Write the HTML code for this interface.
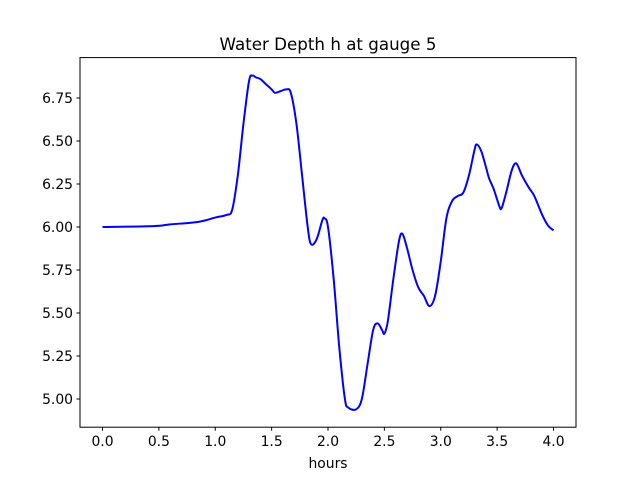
<!DOCTYPE html>
<html><head><meta charset="utf-8"><style>
html,body{margin:0;padding:0;background:#fff;}
svg text{font-family:"DejaVu Sans","Liberation Sans",sans-serif;fill:#000;}
</style></head><body>
<svg id="chart" width="640" height="480" xmlns="http://www.w3.org/2000/svg">
<rect x="0" y="0" width="640" height="480" fill="#fff"/>
<text x="328" y="50" font-size="16.7" text-anchor="middle">Water Depth h at gauge 5</text>
<g id="xticks"></g>
<g id="yticks"></g>
<path id="line" fill="none" stroke="#0000ff" stroke-width="2" stroke-linejoin="round"/>
<rect x="80" y="57.6" width="496" height="369.6" fill="none" stroke="#000" stroke-width="1"/>
<text x="328" y="468" font-size="13.9" text-anchor="middle">hours</text>
</svg>
<script>
const hours=[0,0.45,0.6,0.85,1.0,1.1,1.15,1.2,1.25,1.3,1.33,1.36,1.4,1.45,1.5,1.53,1.58,1.63,1.67,1.72,1.77,1.82,1.85,1.9,1.95,1.97,2.0,2.05,2.1,2.15,2.18,2.25,2.3,2.35,2.4,2.44,2.48,2.5,2.53,2.58,2.63,2.66,2.7,2.75,2.8,2.85,2.9,2.95,3.0,3.05,3.1,3.15,3.2,3.25,3.3,3.32,3.36,3.4,3.43,3.47,3.52,3.54,3.58,3.63,3.67,3.72,3.78,3.83,3.9,3.95,4.0];
const depth=[6.0,6.005,6.015,6.03,6.055,6.07,6.1,6.3,6.6,6.85,6.88,6.87,6.86,6.83,6.8,6.78,6.79,6.8,6.78,6.6,6.3,6.0,5.9,5.93,6.04,6.05,6.0,5.7,5.3,5.0,4.95,4.94,5.0,5.2,5.4,5.44,5.4,5.38,5.45,5.7,5.92,5.96,5.88,5.75,5.65,5.6,5.54,5.6,5.8,6.05,6.15,6.18,6.2,6.3,6.45,6.48,6.44,6.35,6.28,6.22,6.12,6.11,6.2,6.33,6.37,6.3,6.23,6.18,6.07,6.01,5.98];
const xTickLabels=["0.0","0.5","1.0","1.5","2.0","2.5","3.0","3.5","4.0"];
const yTickLabels=["5.00","5.25","5.50","5.75","6.00","6.25","6.50","6.75"];
const NS="http://www.w3.org/2000/svg";
function xs(v){return 102.5+v*112.75;}
function ys(v){return 399-(v-5)*172;}
const xg=document.getElementById('xticks'),yg=document.getElementById('yticks');
xTickLabels.forEach(l=>{const v=parseFloat(l),x=xs(v);
 const t=document.createElementNS(NS,'line');t.setAttribute('x1',x);t.setAttribute('x2',x);t.setAttribute('y1',427.2);t.setAttribute('y2',430.7);t.setAttribute('stroke','#000');
 
 xg.appendChild(t);
 const s=document.createElementNS(NS,'text');s.setAttribute('x',x);s.setAttribute('y',446);s.setAttribute('font-size','13.9');s.setAttribute('text-anchor','middle');s.textContent=l;
 
 xg.appendChild(s);});
yTickLabels.forEach(l=>{const v=parseFloat(l),y=ys(v);
 const t=document.createElementNS(NS,'line');t.setAttribute('x1',76.5);t.setAttribute('x2',80);t.setAttribute('y1',y);t.setAttribute('y2',y);t.setAttribute('stroke','#000');
 
 yg.appendChild(t);
 const s=document.createElementNS(NS,'text');s.setAttribute('x',73);s.setAttribute('y',y+5);s.setAttribute('font-size','13.9');s.setAttribute('text-anchor','end');s.textContent=l;
 
 yg.appendChild(s);});
const pts=hours.map((h,i)=>[xs(h),ys(depth[i])]);
let d='M'+pts[0][0]+','+pts[0][1];
for(let i=0;i<pts.length-1;i++){const p0=pts[Math.max(i-1,0)],p1=pts[i],p2=pts[i+1],p3=pts[Math.min(i+2,pts.length-1)];
 const c1=[p1[0]+(p2[0]-p0[0])/6,p1[1]+(p2[1]-p0[1])/6],c2=[p2[0]-(p3[0]-p1[0])/6,p2[1]-(p3[1]-p1[1])/6];
 d+=' C'+c1+' '+c2+' '+p2;}
document.getElementById('line').setAttribute('d',d);
</script>
</body></html>
